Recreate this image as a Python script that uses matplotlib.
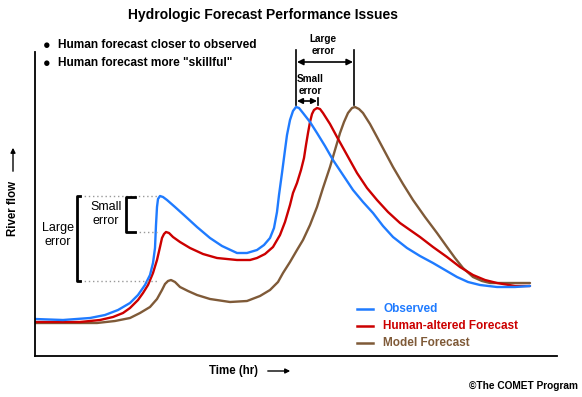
import numpy as np
import matplotlib.pyplot as plt
from matplotlib.patches import FancyArrowPatch

plt.rcParams['font.family'] = ['Liberation Sans', 'DejaVu Sans']

# tiempo (hr) y caudal (unidades arbitrarias)
t_obs = [0, 28, 55, 70, 83, 95, 103, 110, 115, 118, 120, 121, 122, 123, 125, 128, 132, 140,
         150, 162, 175, 187, 202, 212, 222, 229, 235, 239, 242, 244, 247, 250, 252, 255, 258,
         261, 264, 268, 275, 282, 290, 298, 308, 318, 328, 338, 348, 358, 372, 385, 398, 410,
         422, 433, 445, 462, 480, 495]
q_obs = [37, 36, 38, 41, 46, 53, 61, 71, 81, 93, 108, 131, 149, 157, 160, 159, 156, 149,
         140, 129, 118, 110, 103, 103, 106, 111, 118, 128, 144, 161, 183, 206, 221, 236, 245,
         249, 248, 243, 234, 223, 210, 196, 181, 166, 154, 143, 130, 119, 108, 100, 93, 86,
         79, 74, 71, 69, 69, 70]

t_hum = [0, 45, 65, 78, 88, 95, 103, 108, 113, 118, 122, 125, 127, 129, 131, 134, 138, 145,
         155, 168, 182, 202, 215, 222, 230, 238, 245, 250, 255, 258, 262, 266, 269, 271, 273,
         275, 277, 279, 282, 285, 288, 295, 302, 312, 322, 332, 342, 353, 365, 375, 385, 398,
         412, 425, 438, 450, 462, 480, 495]
q_hum = [34, 34, 36, 39, 43, 48, 56, 63, 71, 83, 96, 109, 118, 122, 124, 123, 119, 114,
         108, 102, 98, 96, 96, 98, 102, 109, 121, 134, 151, 163, 173, 186, 198, 211, 223,
         234, 242, 246, 248, 247, 243, 232, 219, 201, 183, 168, 156, 144, 133, 126, 119, 109,
         99, 89, 81, 76, 73, 70, 70]

t_mod = [0, 62, 80, 95, 105, 115, 122, 127, 130, 133, 136, 140, 145, 153, 162, 175, 195,
         212, 225, 235, 243, 248, 255, 262, 268, 275, 282, 288, 295, 300, 305, 309, 313, 317,
         320, 324, 328, 335, 342, 350, 358, 368, 378, 390, 402, 412, 420, 428, 438, 447, 455,
         475, 495]
q_mod = [33, 33, 35, 38, 43, 49, 57, 66, 72, 75, 76, 74, 69, 65, 61, 57, 54,
         55, 60, 66, 74, 83, 94, 106, 116, 131, 149, 168, 189, 206, 223, 234, 243, 248,
         249, 247, 243, 232, 219, 204, 189, 172, 156, 139, 123, 109, 98, 88, 79, 75, 73,
         73, 73]

c_obs = '#1f7bff'
c_hum = '#cc0000'
c_mod = '#7f5a38'

W, H = 582, 397
fig = plt.figure(figsize=(W / 100, H / 100), dpi=100)
ax = fig.add_axes([35 / W, (H - 356) / H, (557 - 35) / W, (356 - 52) / H])
ax.set_xlim(0, 522)
ax.set_ylim(0, 304)
ax.set_xticks([])
ax.set_yticks([])
for s in ['top', 'right']:
    ax.spines[s].set_visible(False)
for s in ['left', 'bottom']:
    ax.spines[s].set_linewidth(1.3)

estilo = dict(lw=1.7, solid_capstyle='round', solid_joinstyle='round')
ax.plot(t_mod, q_mod, color=c_mod, **estilo)
ax.plot(t_hum, q_hum, color=c_hum, **estilo)
ax.plot(t_obs, q_obs, color=c_obs, **estilo)

# leyenda
nombres = ['Observed', 'Human-altered Forecast', 'Model Forecast']
colores = [c_obs, c_hum, c_mod]
for i, (n, c) in enumerate(zip(nombres, colores)):
    y = 47 - 17 * i
    ax.plot([322, 338], [y, y], color=c, lw=1.8)
    ax.text(348, y, n, color=c, fontsize=8.5, fontweight='bold', va='center')

# corchetes de la izquierda
dot = dict(color='#999999', lw=1, ls=(0, (1, 2)))
ax.plot([45, 122], [160, 160], **dot)
ax.plot([45, 122], [75, 75], **dot)
ax.plot([100, 122], [124, 124], **dot)
ax.plot([45, 42, 42, 45], [160, 160, 75, 75], color='black', lw=2)
ax.plot([100, 91, 91, 100], [159, 159, 124, 124], color='black', lw=2)
ax.text(23, 121, 'Large\nerror', fontsize=9, ha='center', va='center', linespacing=1.25)
ax.text(71, 142, 'Small\nerror', fontsize=9, ha='center', va='center', linespacing=1.15)

# flechas de arriba
ax.plot([261, 261], [251, 306], color='black', lw=1.2, clip_on=False)
ax.plot([319, 319], [251, 306], color='black', lw=1.2, clip_on=False)
ax.plot([283, 283], [251, 258], color='black', lw=1.2)
ax.annotate('', xy=(262, 294), xytext=(318, 294),
            arrowprops=dict(arrowstyle='<|-|>', color='black', lw=1.2,
                            mutation_scale=9, shrinkA=0, shrinkB=0), annotation_clip=False)
ax.annotate('', xy=(262, 255), xytext=(282, 255),
            arrowprops=dict(arrowstyle='<|-|>', color='black', lw=1.2,
                            mutation_scale=8, shrinkA=0, shrinkB=0))
ax.text(288, 311, 'Large\nerror', fontsize=7.2, fontweight='bold', ha='center', va='center',
        linespacing=1.3, clip_on=False)
ax.text(275, 271, 'Small\nerror', fontsize=7.2, fontweight='bold', ha='center', va='center',
        linespacing=1.3)

# textos de la figura
def fx(x):
    return x / W

def fy(y):
    return 1 - y / H

fig.text(fx(263), fy(15), 'Hydrologic Forecast Performance Issues', fontsize=10,
         fontweight='bold', ha='center', va='center')
fig.text(fx(43), fy(46), '\u25CF', fontsize=9, ha='left', va='center')
fig.text(fx(43), fy(64), '\u25CF', fontsize=9, ha='left', va='center')
fig.text(fx(58), fy(45), 'Human forecast closer to observed', fontsize=8.6,
         fontweight='bold', ha='left', va='center')
fig.text(fx(58), fy(63), 'Human forecast more "skillful"', fontsize=8.6,
         fontweight='bold', ha='left', va='center')
fig.text(fx(209), fy(371), 'Time (hr)', fontsize=8.3, fontweight='bold', ha='left', va='center')
fig.text(fx(13), fy(208), 'River flow', fontsize=8.3, fontweight='bold', rotation=90,
         ha='center', va='center')
fig.text(fx(578), fy(386), '\u00A9The COMET Program', fontsize=7.3, fontweight='bold',
         ha='right', va='center')

# flechas de los ejes
fig.add_artist(FancyArrowPatch(
    (fx(265), fy(371)), (fx(293), fy(371)), transform=fig.transFigure,
    arrowstyle='-|>', mutation_scale=7, color='black', lw=1))
fig.add_artist(FancyArrowPatch(
    (fx(13), fy(174)), (fx(13), fy(145)), transform=fig.transFigure,
    arrowstyle='-|>', mutation_scale=7, color='black', lw=1))

fig.savefig('out.png', dpi=100)
